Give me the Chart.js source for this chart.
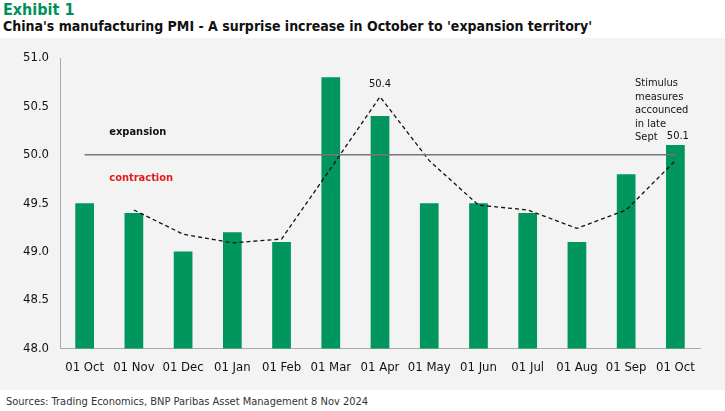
<!DOCTYPE html>
<html><head><meta charset="utf-8">
<script src="https://cdn.jsdelivr.net/npm/chart.js@4"></script>
<style>
body{margin:0;width:725px;height:411px;background:#fff;font-family:"DejaVu Sans Condensed","Roboto",sans-serif;overflow:hidden}
#h1{position:absolute;left:3px;top:0px;font-size:16px;font-weight:bold;color:#00915a}
#h2{position:absolute;left:3px;top:18px;font-size:14px;font-weight:bold;color:#111}
#box{position:absolute;left:0;top:38px;width:725px;height:352px;background:#f3f3f3}
#src{position:absolute;left:6px;top:395px;font-size:11px;color:#333}
</style></head><body>
<div id="h1">Exhibit 1</div>
<div id="h2">China's manufacturing PMI - A surprise increase in October to 'expansion territory'</div>
<div id="box"><canvas id="c" width="725" height="352"></canvas></div>
<div id="src">Sources: Trading Economics, BNP Paribas Asset Management 8 Nov 2024</div>
<script>
const months = ['01 Oct','01 Nov','01 Dec','01 Jan','01 Feb','01 Mar','01 Apr','01 May','01 Jun','01 Jul','01 Aug','01 Sep','01 Oct'];
const pmi = [49.5, 49.4, 49.0, 49.2, 49.1, 50.8, 50.4, 49.5, 49.5, 49.4, 49.1, 49.8, 50.1];
const trend = [null, 49.43, 49.18, 49.09, 49.13, 49.86, 50.6, 49.94, 49.48, 49.43, 49.24, 49.43, 49.94];
const threshold = 50;
const yTicks = [48.0, 48.5, 49.0, 49.5, 50.0, 50.5, 51.0];
const FONT = '"DejaVu Sans Condensed", Roboto, sans-serif';

const notes = {
  id: 'notes',
  afterDatasetsDraw(chart) {
    const {ctx, scales: {x, y}} = chart;
    ctx.save();
    ctx.strokeStyle = '#777'; ctx.lineWidth = 1.5;
    ctx.beginPath();
    ctx.moveTo(x.getPixelForValue(0), y.getPixelForValue(threshold));
    ctx.lineTo(x.getPixelForValue(12), y.getPixelForValue(threshold));
    ctx.stroke();
    ctx.font = 'bold 11px ' + FONT; ctx.textBaseline = 'middle';
    ctx.fillStyle = '#111';
    ctx.fillText('expansion', x.getPixelForValue(0.5), y.getPixelForValue(50.23));
    ctx.fillStyle = '#e01b1b';
    ctx.fillText('contraction', x.getPixelForValue(0.5), y.getPixelForValue(49.76));
    ctx.fillStyle = '#111'; ctx.font = '11px ' + FONT; ctx.textAlign = 'center';
    ctx.fillText('50.4', x.getPixelForValue(6), y.getPixelForValue(50.73));
    ctx.fillText('50.1', x.getPixelForValue(12.05), y.getPixelForValue(50.19));
    ctx.textAlign = 'left';
    ['Stimulus','measures','accounced','in late','Sept'].forEach((t, i) => {
      ctx.fillText(t, x.getPixelForValue(11.18), y.getPixelForValue(50.74) + i * 13.5);
    });
    ctx.restore();
  }
};

new Chart(document.getElementById('c'), {
  data: {
    labels: months,
    datasets: [
      {type: 'line', data: trend, borderColor: '#111', borderWidth: 1.3, borderDash: [4, 3],
       pointRadius: 0, fill: false, tension: 0, order: 0},
      {type: 'bar', data: pmi, backgroundColor: '#00965e', barPercentage: 0.38,
       categoryPercentage: 1, order: 1}
    ]
  },
  options: {
    responsive: false, animation: false,
    layout: {padding: {left: 20, right: 25, top: 20, bottom: 12}},
    plugins: {legend: {display: false}, tooltip: {enabled: false}},
    scales: {
      x: {grid: {display: false}, border: {color: '#aaa'},
          ticks: {color: '#111', maxRotation: 0, autoSkip: false, font: {family: FONT, size: 13}}},
      y: {min: 48, max: 51, afterBuildTicks: s => { s.ticks = yTicks.map(v => ({value: v})); },
          grid: {display: false}, border: {color: '#aaa'},
          ticks: {color: '#111', font: {family: FONT, size: 13}, callback: v => v.toFixed(1)}}
    }
  },
  plugins: [notes]
});
</script>
</body></html>
